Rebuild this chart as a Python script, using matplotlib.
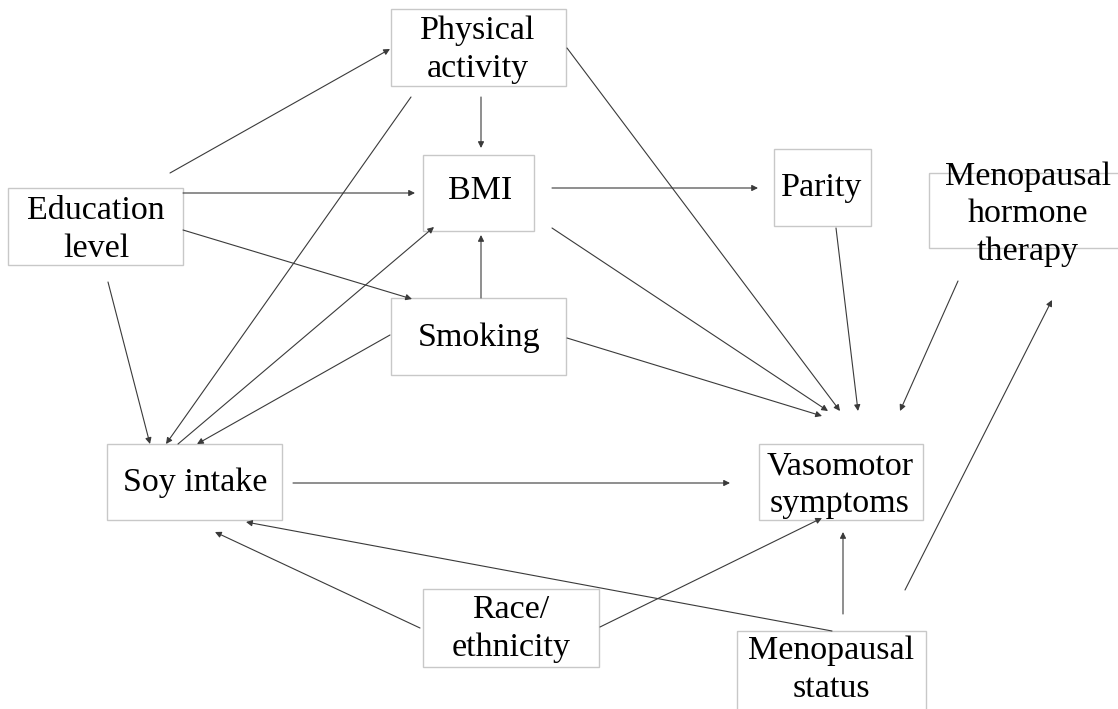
import matplotlib.pyplot as plt
from matplotlib.patches import Rectangle

# Node labels and box extents (x0, y0, x1, y1) in picture pixels
labels = ["Physical\nactivity", "BMI", "Parity", "Menopausal\nhormone\ntherapy",
          "Education\nlevel", "Smoking", "Soy intake", "Vasomotor\nsymptoms",
          "Race/\nethnicity", "Menopausal\nstatus"]
boxes = [(391, 9, 566, 86), (423, 155, 534, 231), (774, 149, 871, 226),
         (929, 173, 1120, 248), (8, 188, 183, 265), (391, 298, 566, 375),
         (107, 444, 282, 520), (759, 444, 923, 520), (423, 589, 599, 667),
         (737, 631, 926, 711)]
text_pos = [(478, 50), (480, 191), (822, 188), (1028, 214), (96, 230),
            (479, 338), (195, 483), (840, 485), (511, 629), (831, 670)]

# Arrows: (start x, start y, end x, end y)
edges = [
    (170, 173, 390, 49),    # education -> physical activity
    (183, 193, 415, 193),   # education -> BMI
    (183, 230, 412, 299),   # education -> smoking
    (108, 282, 150, 444),   # education -> soy
    (481, 97, 481, 148),    # physical activity -> BMI
    (411, 97, 166, 444),    # physical activity -> soy
    (567, 48, 840, 411),    # physical activity -> vasomotor
    (552, 188, 758, 188),   # BMI -> parity
    (552, 228, 828, 411),   # BMI -> vasomotor
    (481, 298, 481, 235),   # smoking -> BMI
    (390, 335, 197, 444),   # smoking -> soy
    (178, 444, 434, 227),   # soy -> BMI
    (567, 338, 822, 416),   # smoking -> vasomotor
    (836, 228, 858, 411),   # parity -> vasomotor
    (958, 281, 900, 411),   # MHT -> vasomotor
    (293, 483, 730, 483),   # soy -> vasomotor
    (420, 628, 215, 532),   # race -> soy
    (600, 627, 822, 518),   # race -> vasomotor
    (832, 631, 246, 522),   # menopausal status -> soy
    (843, 614, 843, 532),   # menopausal status -> vasomotor
    (905, 590, 1052, 300),  # menopausal status -> MHT
]

fig = plt.figure(figsize=(11.18, 7.09), dpi=100)
ax = fig.add_axes([0, 0, 1, 1])
ax.set_xlim(0, 1118)
ax.set_ylim(709, 0)
ax.axis("off")

for (x0, y0, x1, y1) in boxes:
    ax.add_patch(Rectangle((x0, y0), x1 - x0, y1 - y0, fill=False,
                           edgecolor="#c8c8c8", lw=1.0))

for lab, (tx, ty) in zip(labels, text_pos):
    ax.text(tx, ty, lab, ha="center", va="center", fontsize=24.5,
            family="Liberation Serif", linespacing=1.3, color="black")

for (x0, y0, x1, y1) in edges:
    ax.annotate("", xy=(x1, y1), xytext=(x0, y0),
                arrowprops=dict(arrowstyle="-|>", color="#3a3a3a", lw=0.8,
                                mutation_scale=9, shrinkA=0, shrinkB=0))

fig.savefig("out.png", dpi=100)
